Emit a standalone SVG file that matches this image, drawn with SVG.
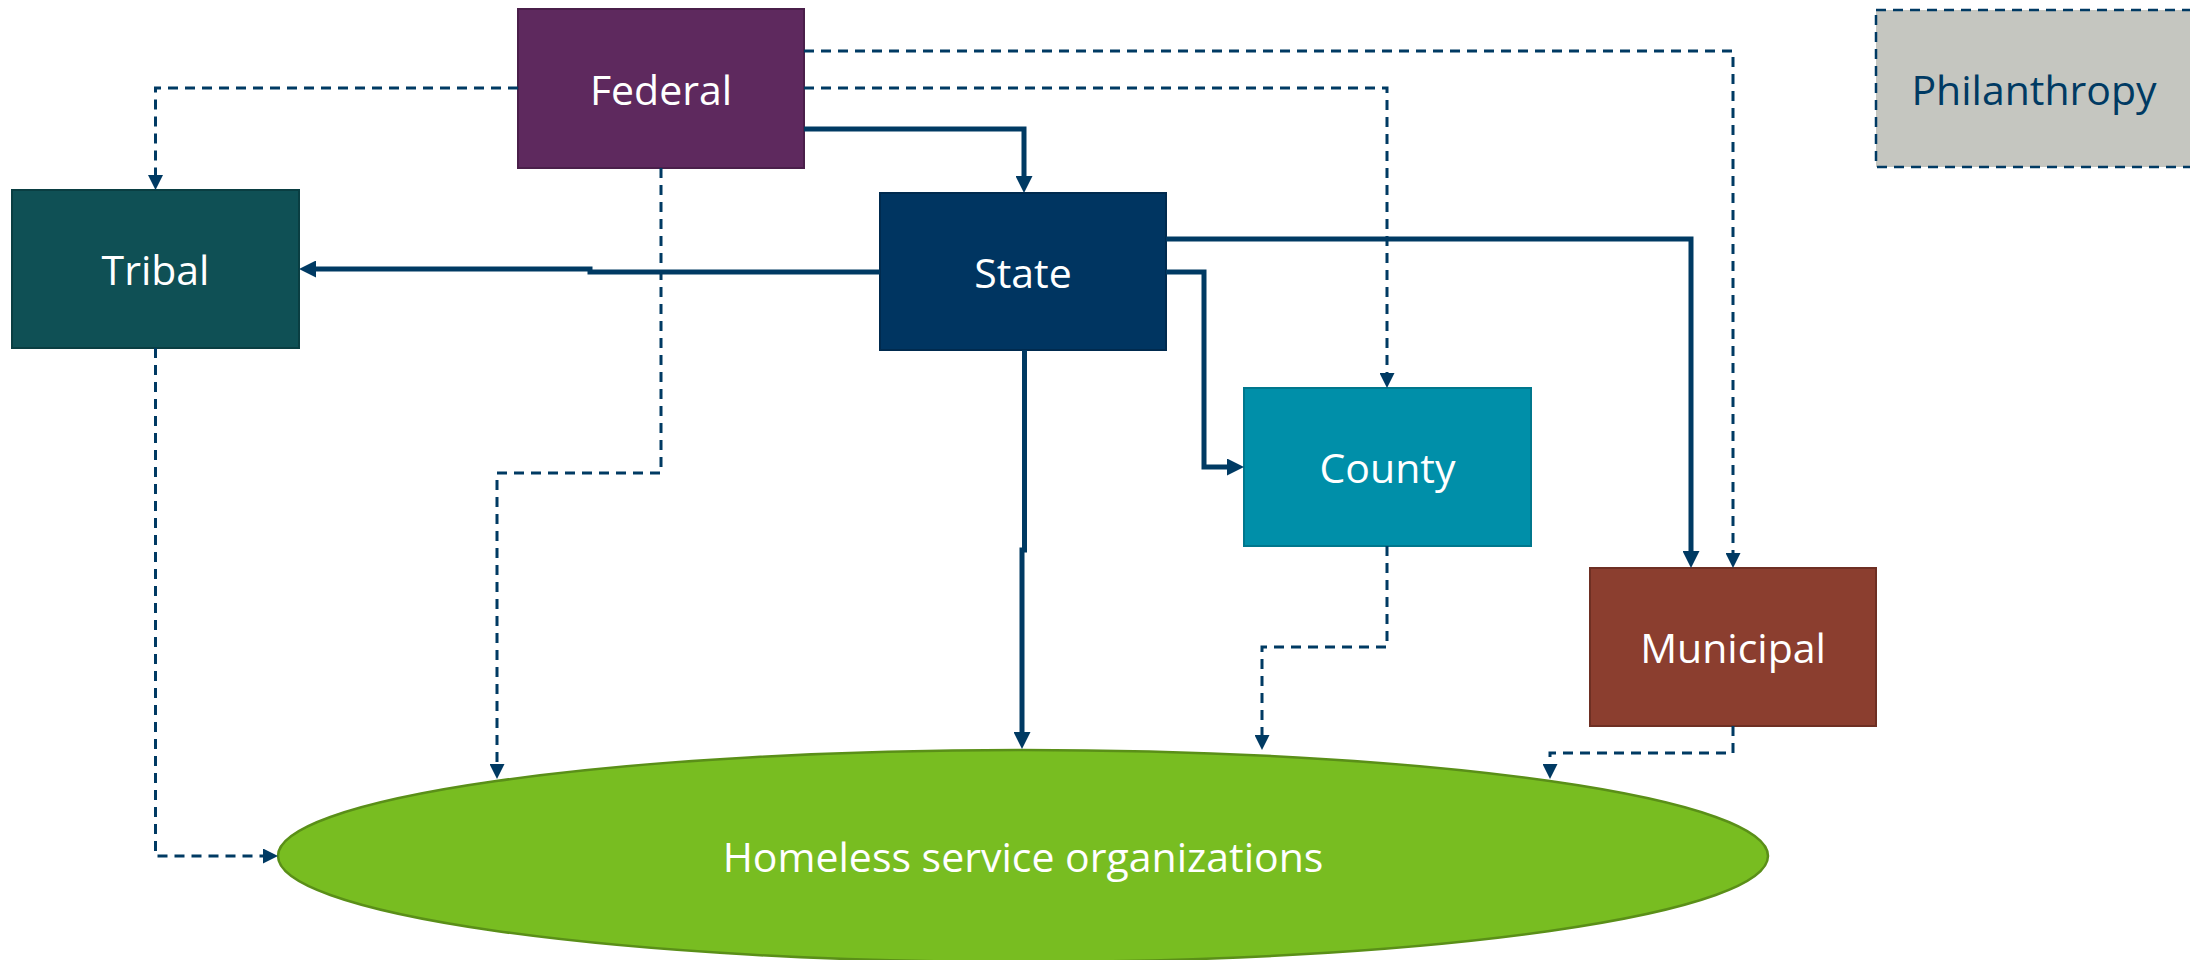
<svg xmlns="http://www.w3.org/2000/svg" width="2190" height="960" viewBox="0 0 2190 960">
<defs>
<style>
.lbl{font-family:"Open Sans","Liberation Sans",sans-serif;font-size:41px;fill:#ffffff;text-anchor:middle}
.box{stroke-width:2}
.solid{fill:none;stroke:#003A63;stroke-width:5;marker-end:url(#arrS)}
.dash{fill:none;stroke:#003A63;stroke-width:3;stroke-dasharray:10 7;marker-end:url(#arrD)}
</style>
<marker id="arrS" markerUnits="userSpaceOnUse" markerWidth="17" markerHeight="17" refX="9" refY="8.5" orient="auto" viewBox="0 0 17 17">
<path d="M0,0 L17,8.5 L0,17 z" fill="#003A63"/>
</marker>
<marker id="arrD" markerUnits="userSpaceOnUse" markerWidth="15" markerHeight="15" refX="8" refY="7.5" orient="auto" viewBox="0 0 15 15">
<path d="M0,0 L15,7.5 L0,15 z" fill="#003A63"/>
</marker>
</defs>
<rect width="2190" height="960" fill="#ffffff"/>
<g id="homeless">
<ellipse cx="1023" cy="856" rx="745" ry="106" fill="#78BD21" stroke="#5A8F18" stroke-width="2.5"/>
<text class="lbl" x="1023" y="872">Homeless service organizations</text>
</g>
<g id="federal">
<rect class="box" x="518" y="9" width="286" height="159" fill="#5E295E" stroke="#4A1F4A"/>
<text class="lbl" x="661" y="104.5">Federal</text>
</g>
<g id="tribal">
<rect class="box" x="12" y="190" width="287" height="158" fill="#0F5055" stroke="#0A3E42"/>
<text class="lbl" x="155.5" y="285">Tribal</text>
</g>
<g id="state">
<rect class="box" x="880" y="193" width="286" height="157" fill="#003561" stroke="#002A4E"/>
<text class="lbl" x="1023" y="287.5">State</text>
</g>
<g id="county">
<rect class="box" x="1244" y="388" width="287" height="158" fill="#008FA9" stroke="#00778D"/>
<text class="lbl" x="1387.5" y="483">County</text>
</g>
<g id="municipal">
<rect class="box" x="1590" y="568" width="286" height="158" fill="#8B3E2F" stroke="#6E2F23"/>
<text class="lbl" x="1733" y="663">Municipal</text>
</g>
<g id="philanthropy">
<rect x="1876" y="10" width="318" height="157" fill="#C5C6C0" stroke="#003A63" stroke-width="2.5" stroke-dasharray="10 7"/>
<text class="lbl" x="2034" y="105" style="fill:#003A63">Philanthropy</text>
</g>
<g id="connectors">
<path class="dash" d="M518,88 H155.5 V183"/>
<path class="solid" d="M804,129 H1024 V185"/>
<path class="dash" d="M804,88 H1387 V381"/>
<path class="dash" d="M804,51 H1733 V561"/>
<path class="dash" d="M661,168 V473 H497 V772"/>
<path class="solid" d="M880,272 H590 V269 H307"/>
<path class="solid" d="M1024.5,350 V550 H1022 V741"/>
<path class="solid" d="M1166,272 H1204 V467 H1236"/>
<path class="solid" d="M1166,239 H1691 V560"/>
<path class="dash" d="M1387,546 V647 H1262 V743"/>
<path class="dash" d="M1733,726 V753 H1550 V772"/>
<path class="dash" d="M155.5,348 V856 H271"/>
</g>
</svg>
